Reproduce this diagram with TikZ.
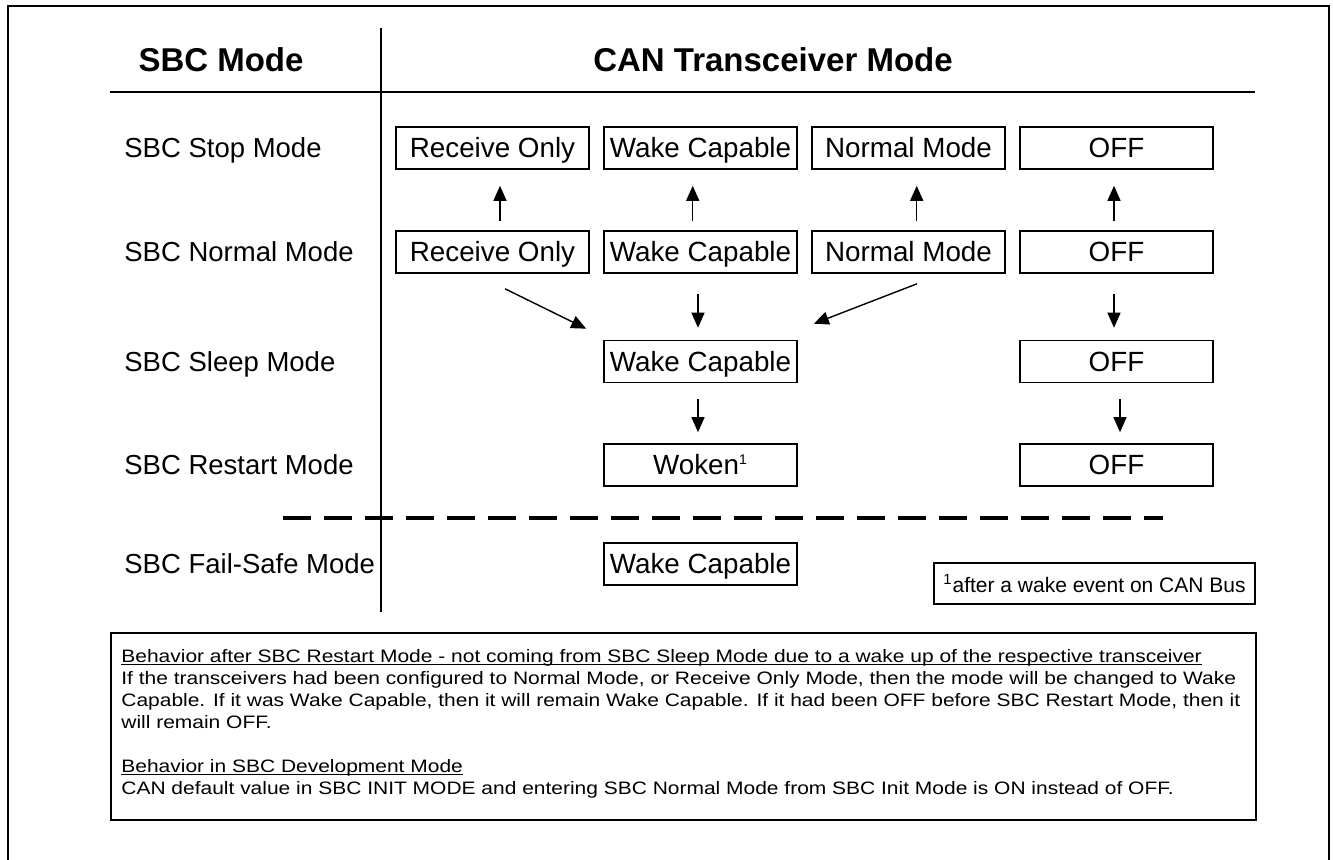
\documentclass[tikz,border=0pt]{standalone}
\usepackage{fontspec}
\setmainfont{Liberation Sans}
\newfontfamily\notefamily[FakeStretch=1.165]{Liberation Sans}
\usetikzlibrary{arrows.meta}
\newcommand\notefont{\notefamily\fontsize{9}{11}\selectfont}
\newcommand\noteul[1]{\setbox0\hbox{#1}\rlap{\rule[-1.4pt]{\wd0}{0.5pt}}\box0}

\begin{document}
\begin{tikzpicture}[x=0.5pt,y=-0.5pt,
    >={Triangle[length=7.5pt,width=6.5pt]},
    head/.style={font=\fontsize{16.5}{18}\selectfont\bfseries},
    rowlabel/.style={anchor=west,inner sep=0pt,text height=10pt,text depth=0pt,
        font=\fontsize{13.75}{16}\selectfont},
    modebox/.style={draw,line width=0.8pt,minimum width=96.5pt,minimum height=21pt,
        inner sep=0pt,text height=10pt,text depth=0pt,font=\fontsize{13.9}{16}\selectfont},
    arr/.style={->,line width=0.7pt}]
    \useasboundingbox (0,0) rectangle (1333,860);
    \draw[line width=0.7pt] (8,6) rectangle (1329,900);
    \node[head] (sbchead) at (221,60) {SBC Mode};
    \node[head] (canhead) at (773,60) {CAN Transceiver Mode};
    \draw[line width=0.8pt] (110,92) -- (1255,92);
    \draw[line width=0.7pt] (381,28) -- (381,612);
    \node[rowlabel] (lstop) at (124,148) {SBC Stop Mode};
    \node[rowlabel] (lnorm) at (124,252) {SBC Normal Mode};
    \node[rowlabel] (lsleep) at (124,361.5) {SBC Sleep Mode};
    \node[rowlabel] (lrest) at (124,465) {SBC Restart Mode};
    \node[rowlabel] (lfail) at (124,564) {SBC Fail-Safe Mode};
    \node[modebox] (stop1) at (492.5,148) {Receive Only};
    \node[modebox] (stop2) at (700.5,148) {Wake Capable};
    \node[modebox] (stop3) at (908.5,148) {Normal Mode};
    \node[modebox] (stop4) at (1116.5,148) {OFF};
    \node[modebox] (norm1) at (492.5,252) {Receive Only};
    \node[modebox] (norm2) at (700.5,252) {Wake Capable};
    \node[modebox] (norm3) at (908.5,252) {Normal Mode};
    \node[modebox] (norm4) at (1116.5,252) {OFF};
    \node[modebox] (sleep2) at (700.5,361.5) {Wake Capable};
    \node[modebox] (sleep4) at (1116.5,361.5) {OFF};
    \node[modebox] (rest2) at (700.5,465) {Woken\textsuperscript{\fontsize{7}{7}\selectfont 1}};
    \node[modebox] (rest4) at (1116.5,465) {OFF};
    \node[modebox] (fail2) at (700.5,564) {Wake Capable};
    \draw[arr,shorten <=4.5pt,shorten >=8pt] ([xshift=3.75pt]norm1.north) -- ([xshift=3.75pt]stop1.south);
    \draw[arr,shorten <=4.5pt,shorten >=8pt] ([xshift=-3.9pt]norm2.north) -- ([xshift=-3.9pt]stop2.south);
    \draw[arr,shorten <=4.5pt,shorten >=8pt] ([xshift=4.1pt]norm3.north) -- ([xshift=4.1pt]stop3.south);
    \draw[arr,shorten <=4.5pt,shorten >=8pt] ([xshift=-1.25pt]norm4.north) -- ([xshift=-1.25pt]stop4.south);
    \draw[arr] ([shift={(12.5,15)}]norm1.south) -- ([shift={(-17,-11)}]sleep2.north west);
    \draw[arr,shorten <=10pt,shorten >=6pt] ([xshift=-1.25pt]norm2.south) -- ([xshift=-1.25pt]sleep2.north);
    \draw[arr] ([shift={(8.5,10)}]norm3.south) -- ([shift={(16,-16)}]sleep2.north east);
    \draw[arr,shorten <=10pt,shorten >=6pt] ([xshift=-1.25pt]norm4.south) -- ([xshift=-1.25pt]sleep4.north);
    \draw[arr,shorten <=8pt,shorten >=5.5pt] ([xshift=-1.25pt]sleep2.south) -- ([xshift=-1.25pt]rest2.north);
    \draw[arr,shorten <=8pt,shorten >=5.5pt] ([xshift=1.75pt]sleep4.south) -- ([xshift=1.75pt]rest4.north);
    \draw[line width=2pt,dash pattern=on 14pt off 6.5pt] (283,518) -- (1163,518);
    \node[draw,line width=0.8pt,minimum width=160.5pt,minimum height=20.5pt,inner sep=0pt,
        font=\fontsize{10.5}{12}\selectfont] (fnote) at (1094.5,583.5)
        {\textsuperscript{1}after a wake event on CAN Bus};
    \node[draw,line width=0.8pt,anchor=north west,minimum width=572.5pt,minimum height=93.5pt]
        (notebox) at (110,632) {};
    \node[anchor=north west,align=left,inner sep=0pt,font=\notefont]
        (notetext) at ([shift={(11,17)}]notebox.north west)
        {\noteul{Behavior after SBC Restart Mode - not coming from SBC Sleep Mode due to a wake up of the respective transceiver}\\
        If the transceivers had been configured to Normal Mode, or Receive Only Mode, then the mode will be changed to Wake\\
        Capable. If it was Wake Capable, then it will remain Wake Capable. If it had been OFF before SBC Restart Mode, then it\\
        will remain OFF.\\[11pt]
        \noteul{Behavior in SBC Development Mode}\\
        CAN default value in SBC INIT MODE and entering SBC Normal Mode from SBC Init Mode is ON instead of OFF.};
\end{tikzpicture}
\end{document}
